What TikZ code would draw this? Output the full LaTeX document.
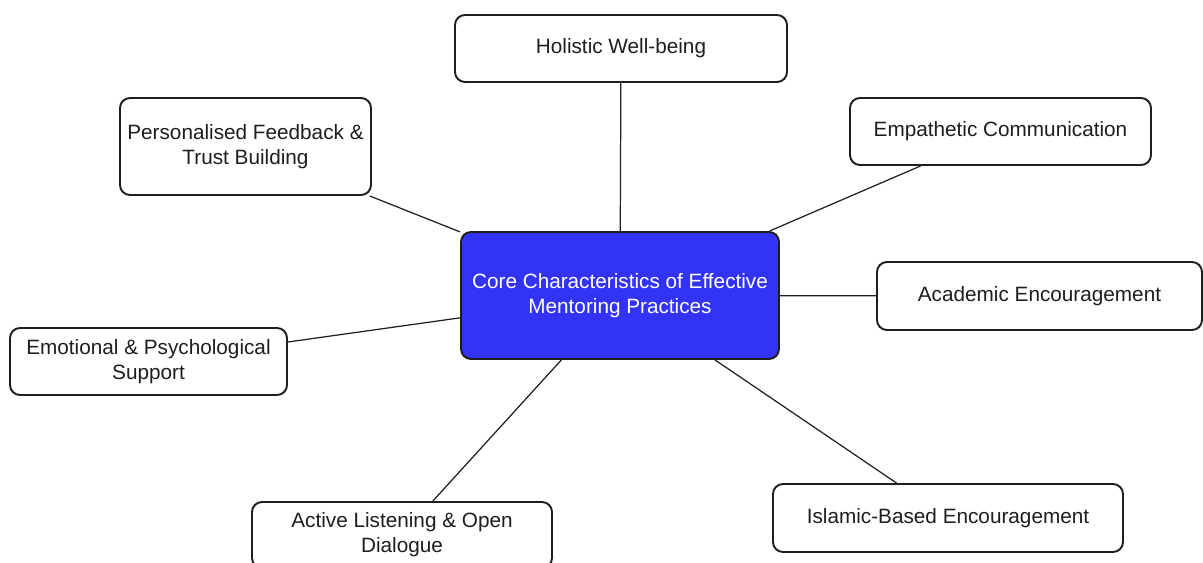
\documentclass[tikz,border=0pt]{standalone}
\usepackage{fontspec}
\setmainfont{Liberation Sans}
\usepackage{tikz}
\definecolor{coreblue}{RGB}{51,51,246}
\definecolor{inkgray}{RGB}{30,30,30}

\begin{document}
\begin{tikzpicture}[line width=0.7pt,
  box/.style={draw=inkgray,line width=1.1pt,rounded corners=0.2cm,fill=white,
    align=center,text=inkgray,inner sep=0pt,
    font=\fontsize{11.8}{14.2}\selectfont},
  hub/.style={box,fill=coreblue,text=white}]
  \useasboundingbox (0,0) rectangle (24.06,11.26);
  \node[hub,minimum width=6.36cm,minimum height=2.54cm] (core) at (12.40,5.35)
    {Core Characteristics of Effective\\Mentoring Practices};
  \node[box,minimum width=6.64cm,minimum height=1.34cm] (holistic) at (12.42,10.29)
    {Holistic Well-being};
  \node[box,minimum width=5.02cm,minimum height=1.94cm] (feedback) at (4.91,8.33)
    {Personalised Feedback \&\\Trust Building};
  \node[box,minimum width=6.02cm,minimum height=1.34cm] (empathy) at (20.01,8.63)
    {Empathetic Communication};
  \node[box,minimum width=6.50cm,minimum height=1.36cm] (academic) at (20.79,5.34)
    {Academic Encouragement};
  \node[box,minimum width=5.54cm,minimum height=1.34cm] (emotional) at (2.97,4.03)
    {Emotional \& Psychological\\Support};
  \node[box,minimum width=6.00cm,minimum height=1.32cm] (listening) at (8.04,0.56)
    {Active Listening \& Open\\Dialogue};
  \node[box,minimum width=7.00cm,minimum height=1.36cm] (islamic) at (18.96,0.90)
    {Islamic-Based Encouragement};
  \draw[inkgray] (core) -- (holistic);
  \draw[inkgray] (core) -- (feedback);
  \draw[inkgray] (core) -- (empathy);
  \draw[inkgray] (core) -- (academic);
  \draw[inkgray] (core) -- (emotional);
  \draw[inkgray] (core) -- (listening);
  \draw[inkgray] (core) -- (islamic);
\end{tikzpicture}
\end{document}
